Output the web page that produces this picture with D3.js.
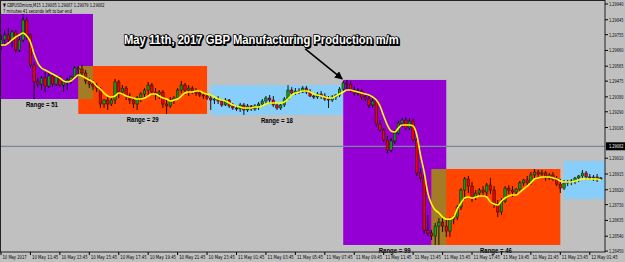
<!DOCTYPE html>
<html>
<head>
<meta charset="utf-8">
<script src="https://cdn.jsdelivr.net/npm/d3@7"></script>
<style>
  html, body { margin: 0; padding: 0; background: #c0c0c0; overflow: hidden; }
  svg { display: block; }
</style>
</head>
<body>
<div id="chart"></div>
<script>
// GBPUSD M15, one candle per bar (bar 0 = 10 May 09:45)
const opens = [
  1.29699,1.29723,1.29753,1.29723,1.29771,1.29662,1.29723,1.29843,1.29753,1.29572,
  1.29470,1.29457,1.29494,1.29445,1.29506,1.29457,1.29500,1.29451,1.29470,1.29482,
  1.29500,1.29554,1.29548,1.29524,1.29476,1.29457,1.29445,1.29433,1.29337,1.29361,
  1.29337,1.29361,1.29470,1.29409,1.29433,1.29385,1.29361,1.29337,1.29373,1.29397,
  1.29421,1.29451,1.29409,1.29397,1.29409,1.29337,1.29325,1.29361,1.29373,1.29421,
  1.29451,1.29421,1.29433,1.29415,1.29403,1.29391,1.29385,1.29373,1.29361,1.29367,
  1.29355,1.29331,1.29361,1.29325,1.29313,1.29307,1.29331,1.29301,1.29325,1.29307,
  1.29325,1.29337,1.29355,1.29373,1.29361,1.29331,1.29313,1.29331,1.29367,1.29421,
  1.29403,1.29415,1.29409,1.29433,1.29409,1.29385,1.29379,1.29397,1.29385,1.29367,
  1.29361,1.29379,1.29391,1.29427,1.29464,1.29457,1.29421,1.29403,1.29415,1.29379,
  1.29367,1.29331,1.29355,1.29216,1.29180,1.29120,1.29059,1.29114,1.29162,1.29222,
  1.29240,1.29192,1.29234,1.29120,1.28921,1.28891,1.28577,1.28559,1.28541,1.28601,
  1.28625,1.28601,1.28571,1.28643,1.28655,1.28716,1.28818,1.28885,1.28842,1.28776,
  1.28800,1.28818,1.28806,1.28848,1.28818,1.28734,1.28686,1.28752,1.28830,1.28818,
  1.28806,1.28824,1.28861,1.28879,1.28861,1.28909,1.28927,1.28915,1.28921,1.28891,
  1.28909,1.28885,1.28854,1.28830,1.28861,1.28867,1.28873,1.28891,1.28903,1.28921,
  1.28897,1.28891,1.28897,1.28885
];
const highs = [
  1.29753,1.29783,1.29795,1.29783,1.29783,1.29747,1.29880,1.29861,1.29765,1.29590,
  1.29494,1.29506,1.29530,1.29524,1.29518,1.29512,1.29506,1.29482,1.29494,1.29506,
  1.29566,1.29566,1.29572,1.29542,1.29494,1.29482,1.29464,1.29439,1.29367,1.29379,
  1.29373,1.29488,1.29482,1.29451,1.29445,1.29403,1.29379,1.29385,1.29409,1.29433,
  1.29470,1.29464,1.29433,1.29421,1.29421,1.29361,1.29379,1.29385,1.29433,1.29476,
  1.29464,1.29451,1.29445,1.29433,1.29421,1.29409,1.29403,1.29397,1.29379,1.29385,
  1.29367,1.29373,1.29367,1.29343,1.29331,1.29343,1.29343,1.29337,1.29331,1.29337,
  1.29349,1.29367,1.29385,1.29391,1.29385,1.29343,1.29337,1.29379,1.29451,1.29439,
  1.29433,1.29433,1.29445,1.29445,1.29427,1.29403,1.29409,1.29415,1.29403,1.29385,
  1.29391,1.29397,1.29439,1.29476,1.29482,1.29476,1.29445,1.29433,1.29427,1.29397,
  1.29385,1.29373,1.29367,1.29240,1.29192,1.29144,1.29132,1.29180,1.29234,1.29252,
  1.29258,1.29252,1.29246,1.29132,1.28951,1.28909,1.28668,1.28577,1.28619,1.28649,
  1.28662,1.28649,1.28655,1.28668,1.28728,1.28830,1.28897,1.28903,1.28867,1.28818,
  1.28830,1.28842,1.28861,1.28891,1.28842,1.28758,1.28770,1.28842,1.28848,1.28842,
  1.28830,1.28873,1.28885,1.28903,1.28927,1.28945,1.28939,1.28939,1.28933,1.28921,
  1.28927,1.28903,1.28885,1.28879,1.28879,1.28885,1.28897,1.28909,1.28939,1.28933,
  1.28915,1.28909,1.28915,1.28897
];
const lows = [
  1.29662,1.29693,1.29699,1.29675,1.29644,1.29650,1.29711,1.29723,1.29554,1.29367,
  1.29433,1.29421,1.29409,1.29433,1.29439,1.29445,1.29439,1.29409,1.29421,1.29457,
  1.29494,1.29506,1.29506,1.29457,1.29433,1.29421,1.29409,1.29313,1.29313,1.29301,
  1.29325,1.29337,1.29373,1.29391,1.29361,1.29337,1.29313,1.29301,1.29349,1.29373,
  1.29385,1.29391,1.29361,1.29367,1.29313,1.29277,1.29313,1.29337,1.29361,1.29403,
  1.29391,1.29385,1.29397,1.29385,1.29379,1.29367,1.29361,1.29301,1.29337,1.29337,
  1.29319,1.29325,1.29313,1.29301,1.29295,1.29289,1.29271,1.29289,1.29295,1.29295,
  1.29301,1.29319,1.29337,1.29337,1.29319,1.29301,1.29301,1.29319,1.29361,1.29385,
  1.29391,1.29397,1.29403,1.29397,1.29379,1.29367,1.29367,1.29367,1.29355,1.29313,
  1.29349,1.29361,1.29379,1.29409,1.29421,1.29409,1.29385,1.29385,1.29361,1.29355,
  1.29313,1.29313,1.29198,1.29168,1.29108,1.29041,1.29047,1.29096,1.29150,1.29198,
  1.29180,1.29180,1.29108,1.28903,1.28861,1.28553,1.28541,1.28517,1.28487,1.28487,
  1.28565,1.28535,1.28535,1.28613,1.28637,1.28698,1.28758,1.28800,1.28746,1.28758,
  1.28776,1.28782,1.28782,1.28794,1.28710,1.28655,1.28668,1.28740,1.28794,1.28776,
  1.28788,1.28806,1.28842,1.28842,1.28848,1.28879,1.28891,1.28897,1.28873,1.28879,
  1.28873,1.28842,1.28800,1.28818,1.28842,1.28848,1.28854,1.28867,1.28891,1.28879,
  1.28879,1.28873,1.28867,1.28879
];
const closes = [
  1.29723,1.29753,1.29723,1.29771,1.29662,1.29723,1.29843,1.29753,1.29572,1.29470,
  1.29457,1.29494,1.29445,1.29506,1.29457,1.29500,1.29451,1.29470,1.29482,1.29500,
  1.29554,1.29548,1.29524,1.29476,1.29457,1.29445,1.29433,1.29337,1.29361,1.29337,
  1.29361,1.29470,1.29409,1.29433,1.29385,1.29361,1.29337,1.29373,1.29397,1.29421,
  1.29451,1.29409,1.29397,1.29409,1.29337,1.29325,1.29361,1.29373,1.29421,1.29451,
  1.29421,1.29433,1.29415,1.29403,1.29391,1.29385,1.29373,1.29361,1.29367,1.29355,
  1.29331,1.29361,1.29325,1.29313,1.29307,1.29331,1.29301,1.29325,1.29307,1.29325,
  1.29337,1.29355,1.29373,1.29361,1.29331,1.29313,1.29331,1.29367,1.29421,1.29403,
  1.29415,1.29409,1.29433,1.29409,1.29385,1.29379,1.29397,1.29385,1.29367,1.29361,
  1.29379,1.29391,1.29427,1.29464,1.29457,1.29421,1.29403,1.29415,1.29379,1.29367,
  1.29331,1.29355,1.29216,1.29180,1.29120,1.29059,1.29114,1.29162,1.29222,1.29240,
  1.29192,1.29234,1.29120,1.28921,1.28891,1.28577,1.28559,1.28541,1.28601,1.28625,
  1.28601,1.28571,1.28643,1.28655,1.28716,1.28818,1.28885,1.28842,1.28776,1.28800,
  1.28818,1.28806,1.28848,1.28818,1.28734,1.28686,1.28752,1.28830,1.28818,1.28806,
  1.28824,1.28861,1.28879,1.28861,1.28909,1.28927,1.28915,1.28921,1.28891,1.28909,
  1.28885,1.28854,1.28830,1.28861,1.28867,1.28873,1.28891,1.28903,1.28921,1.28897,
  1.28891,1.28897,1.28885,1.28891
];
// yellow moving average
const maValues = [
  1.29693,1.29693,1.29705,1.29723,1.29741,1.29753,1.29765,1.29747,1.29711,1.29638,
  1.29584,1.29554,1.29542,1.29530,1.29518,1.29506,1.29494,1.29476,1.29470,1.29476,
  1.29494,1.29512,1.29506,1.29494,1.29482,1.29470,1.29445,1.29427,1.29403,1.29385,
  1.29379,1.29385,1.29403,1.29397,1.29385,1.29379,1.29373,1.29367,1.29367,1.29373,
  1.29385,1.29397,1.29397,1.29385,1.29373,1.29367,1.29355,1.29361,1.29367,1.29385,
  1.29403,1.29409,1.29409,1.29415,1.29415,1.29403,1.29397,1.29391,1.29379,1.29367,
  1.29361,1.29355,1.29343,1.29331,1.29325,1.29319,1.29313,1.29313,1.29313,1.29319,
  1.29319,1.29325,1.29337,1.29343,1.29343,1.29343,1.29343,1.29349,1.29367,1.29391,
  1.29403,1.29409,1.29415,1.29415,1.29409,1.29397,1.29391,1.29385,1.29379,1.29373,
  1.29373,1.29385,1.29397,1.29409,1.29421,1.29421,1.29415,1.29409,1.29403,1.29397,
  1.29391,1.29379,1.29361,1.29325,1.29265,1.29210,1.29174,1.29168,1.29192,1.29210,
  1.29210,1.29210,1.29204,1.29150,1.29029,1.28927,1.28800,1.28734,1.28698,1.28680,
  1.28655,1.28643,1.28643,1.28655,1.28704,1.28740,1.28770,1.28776,1.28770,1.28776,
  1.28782,1.28782,1.28776,1.28746,1.28734,1.28728,1.28752,1.28770,1.28782,1.28788,
  1.28788,1.28806,1.28824,1.28842,1.28861,1.28885,1.28891,1.28897,1.28897,1.28897,
  1.28891,1.28885,1.28873,1.28867,1.28867,1.28867,1.28873,1.28879,1.28885,1.28885,
  1.28885,1.28885,1.28885,1.28879
];

// session boxes (bar numbers, prices)
const zoneFrom = [-3, 21, 57, 93, 117, 153];
const zoneTo = [25, 56, 93, 121, 152, 170];
const zoneHigh = [1.29880, 1.29566, 1.29451, 1.29482, 1.28945, 1.28993];
const zoneLow = [1.29367, 1.29277, 1.29271, 1.28487, 1.28487, 1.28764];
const zoneRange = [51, 29, 18, 99, 46, null];
const zoneKind = ["london", "newyork", "asia", "london", "newyork", "asia"];

// axes
const timeLabels = [
  "10 May 2017", "10 May 11:45", "10 May 13:45", "10 May 15:45", "10 May 17:45",
  "10 May 19:45", "10 May 21:45", "10 May 23:45", "11 May 01:45", "11 May 03:45",
  "11 May 05:45", "11 May 07:45", "11 May 09:45", "11 May 11:45", "11 May 13:45",
  "11 May 15:45", "11 May 17:45", "11 May 19:45", "11 May 21:45", "11 May 23:45",
  "12 May 01:45"
];
const timeLabelStep = 8;
const priceTicks = [
  1.29940, 1.29845, 1.29755, 1.29660, 1.29565, 1.29475, 1.29380, 1.29290,
  1.29195, 1.29010, 1.28915, 1.28820, 1.28730, 1.28635, 1.28540, 1.28450
];
const bidPrice = 1.29082;
const headerLine1 = "\u25BC GBPUSDmicro,M15  1.29085 1.29087 1.29079 1.29082";
const headerLine2 = "7 minutes 41 seconds left to bar end";
const title = "May 11th, 2017 GBP Manufacturing Production m/m";

const zoneColors = { london: "#9400d3", newyork: "#ff4500", asia: "#87cefa" };
const overlapColor = "#a47c26";

// the screenshot is squeezed sideways, so texts get narrowed to their width
const fit = (t, px, py, w) => {
  const len = t.node().getComputedTextLength();
  t.attr("x", 0)
    .attr("y", 0)
    .attr("transform", `translate(${px},${py}) scale(${w / len},1)`);
  return t;
};

const makePlot = () => {
  const size = { width: 625, height: 262 };
  const plot = { left: 1, top: 1, right: 605, bottom: 252 };

  const x = d3.scaleLinear().domain([0, 163]).range([1, 600.8]);
  const y = d3.scaleLinear().domain([1.2845, 1.2994]).range([251.1, 4]);
  const fmt = d3.format(".5f");

  const container = d3.select("#chart");
  container.selectAll("*").remove();
  const svg = container
    .append("svg")
    .attr("width", size.width)
    .attr("height", size.height);

  svg.append("rect")
    .attr("width", size.width)
    .attr("height", size.height)
    .attr("fill", "#c0c0c0");

  svg.append("defs")
    .append("clipPath")
    .attr("id", "plotClip")
    .append("rect")
    .attr("x", plot.left)
    .attr("y", plot.top)
    .attr("width", plot.right - plot.left)
    .attr("height", plot.bottom - plot.top);

  const g = svg.append("g").attr("clip-path", "url(#plotClip)");

  // session boxes
  zoneFrom.forEach((from, k) => {
    g.append("rect")
      .attr("x", x(from))
      .attr("y", y(zoneHigh[k]))
      .attr("width", x(zoneTo[k]) - x(from))
      .attr("height", y(zoneLow[k]) - y(zoneHigh[k]))
      .attr("fill", zoneColors[zoneKind[k]]);
  });
  // where two boxes overlap MT4 shows a mixed colour
  for (let k = 0; k < zoneFrom.length - 1; k++) {
    if (zoneTo[k] > zoneFrom[k + 1]) {
      const top = Math.max(y(zoneHigh[k]), y(zoneHigh[k + 1]));
      const bot = Math.min(y(zoneLow[k]), y(zoneLow[k + 1]));
      g.append("rect")
        .attr("x", x(zoneFrom[k + 1]))
        .attr("y", top)
        .attr("width", x(zoneTo[k]) - x(zoneFrom[k + 1]))
        .attr("height", bot - top)
        .attr("fill", overlapColor);
    }
  }

  // bid line
  g.append("line")
    .attr("x1", plot.left)
    .attr("x2", plot.right)
    .attr("y1", y(bidPrice))
    .attr("y2", y(bidPrice))
    .attr("stroke", "#778899")
    .attr("stroke-width", 1.3);

  // candles
  const candles = g.append("g");
  closes.forEach((c, i) => {
    const o = opens[i];
    const cx = x(i);
    candles.append("line")
      .attr("x1", cx).attr("x2", cx)
      .attr("y1", y(highs[i])).attr("y2", y(lows[i]))
      .attr("stroke", "#000")
      .attr("stroke-width", 0.9);
    const top = y(Math.max(o, c));
    const h = Math.max(0.8, y(Math.min(o, c)) - top);
    candles.append("rect")
      .attr("x", cx - 1.25)
      .attr("y", top)
      .attr("width", 2.5)
      .attr("height", h)
      .attr("fill", c >= o ? "#109a10" : "#f00000")
      .attr("stroke", "#111")
      .attr("stroke-width", 0.5);
  });

  // moving average
  const line = d3.line()
    .x((d, i) => x(i))
    .y((d) => y(d))
    .curve(d3.curveMonotoneX);
  g.append("path")
    .datum(maValues)
    .attr("d", line)
    .attr("fill", "none")
    .attr("stroke", "#ffff00")
    .attr("stroke-width", 1.6);

  // range labels under the boxes
  zoneRange.forEach((r, k) => {
    if (r === null) return;
    const t = svg.append("text")
      .text("Range = " + r)
      .attr("text-anchor", "middle")
      .style("font-family", "Liberation Sans, Arial, sans-serif")
      .style("font-weight", "bold")
      .style("font-size", "7.5px")
      .attr("fill", "#000");
    fit(t, (Math.max(x(zoneFrom[k]), -9) + x(zoneTo[k])) / 2, y(zoneLow[k]) + 8, 32);
  });

  // arrow to the release bar
  const tipX = x(zoneFrom[3]);
  const tipY = y(zoneHigh[3]);
  svg.append("defs")
    .append("marker")
    .attr("id", "arrowHead")
    .attr("viewBox", "0 0 10 10")
    .attr("refX", 9)
    .attr("refY", 5)
    .attr("markerWidth", 5)
    .attr("markerHeight", 5)
    .attr("orient", "auto")
    .append("path")
    .attr("d", "M0,0 L10,5 L0,10 Z")
    .attr("fill", "#000");
  svg.append("line")
    .attr("x1", tipX - 38)
    .attr("y1", tipY - 31)
    .attr("x2", tipX - 1)
    .attr("y2", tipY - 1)
    .attr("stroke", "#000")
    .attr("stroke-width", 1.6)
    .attr("marker-end", "url(#arrowHead)");

  // title: white with black outline, plus a shadow behind it
  const titleG = svg.append("g");
  const titleText = (sel) =>
    sel.append("text")
      .text(title)
      .style("font-family", "Liberation Sans, Arial, sans-serif")
      .style("font-weight", "bold")
      .style("font-size", "13.5px");
  fit(titleText(titleG), 125, 44.5, 275)
    .attr("fill", "#000")
    .attr("stroke", "#000")
    .attr("stroke-width", 2);
  fit(titleText(titleG), 124, 43.5, 275)
    .attr("fill", "#fff")
    .attr("stroke", "#000")
    .attr("stroke-width", 1.6)
    .attr("paint-order", "stroke");

  // header
  const small = (sel, txt) =>
    sel.append("text")
      .text(txt)
      .style("font-family", "DejaVu Sans, sans-serif")
      .style("font-size", "5.5px")
      .attr("fill", "#000");
  fit(small(svg, headerLine1), 3, 6.5, 102);
  fit(small(svg, headerLine2), 3, 12.5, 69);

  // frame
  svg.append("rect")
    .attr("x", plot.left - 0.5)
    .attr("y", plot.top - 0.5)
    .attr("width", plot.right - plot.left + 0.5)
    .attr("height", plot.bottom - plot.top + 0.5)
    .attr("fill", "none")
    .attr("stroke", "#222")
    .attr("stroke-width", 1);

  // price axis
  const axisR = svg.append("g");
  priceTicks.forEach((p) => {
    axisR.append("line")
      .attr("x1", plot.right).attr("x2", plot.right + 3)
      .attr("y1", y(p)).attr("y2", y(p))
      .attr("stroke", "#000");
    fit(small(axisR, fmt(p)), plot.right + 4, y(p) + 2, 14.5);
  });
  axisR.append("rect")
    .attr("x", plot.right + 1)
    .attr("y", y(bidPrice) - 4)
    .attr("width", size.width - plot.right - 1)
    .attr("height", 8)
    .attr("fill", "#000");
  fit(small(axisR, fmt(bidPrice)), plot.right + 4, y(bidPrice) + 2, 14.5)
    .attr("fill", "#fff");

  // time axis
  const axisB = svg.append("g");
  timeLabels.forEach((lab, k) => {
    const tx = x(k * timeLabelStep);
    axisB.append("line")
      .attr("x1", tx).attr("x2", tx)
      .attr("y1", plot.bottom).attr("y2", plot.bottom + 3)
      .attr("stroke", "#000");
    fit(small(axisB, lab), tx + 1.5, plot.bottom + 6.5, lab.length * 2.2);
  });
};

makePlot();
</script>
</body>
</html>
